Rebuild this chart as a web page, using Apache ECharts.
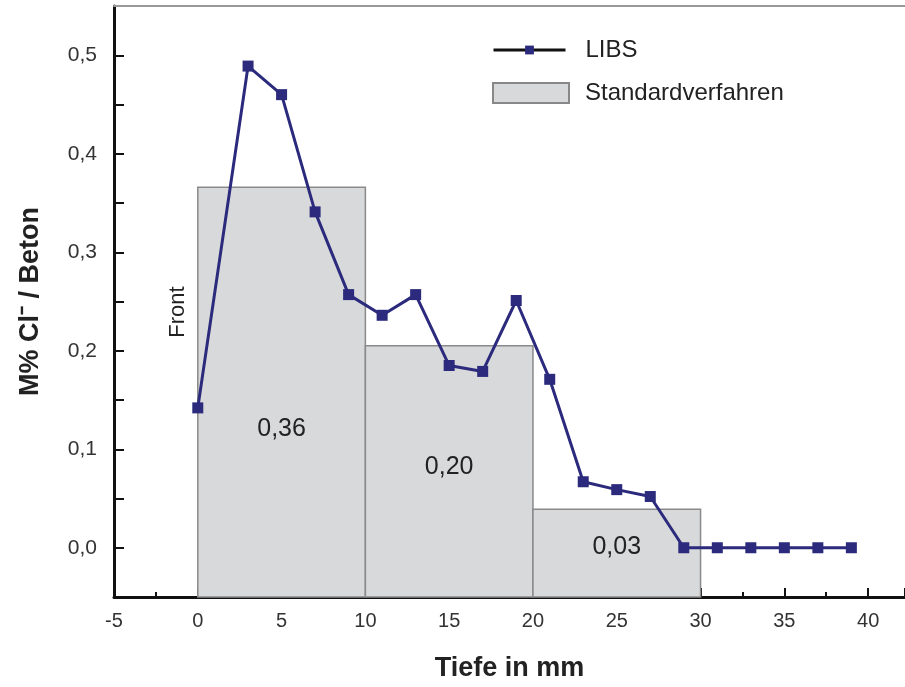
<!DOCTYPE html>
<html><head><meta charset="utf-8">
<script src="https://cdn.jsdelivr.net/npm/echarts@6/dist/echarts.min.js"></script>
<style>html,body{margin:0;padding:0;background:#fff}#c{width:905px;height:687px}</style>
</head><body><div id="c"></div>
<script>
// LIBS measurements
const libsDepth = [0,3,5,7,9,11,13,15,17,19,21,23,25,27,29,31,33,35,37,39];
const libsValue = [0.142,0.489,0.460,0.341,0.257,0.236,0.257,0.185,0.179,0.251,0.171,0.067,0.059,0.052,0.0,0.0,0.0,0.0,0.0,0.0];
// Standard method (layer intervals)
const stdFrom = [0,10,20];
const stdTo = [10,20,30];
const stdValue = [0.366,0.205,0.039];
const stdLabel = ['0,36','0,20','0,03'];
const stdLabelAt = [0.12,0.082,0.001];
const yTicks = [0,0.1,0.2,0.3,0.4,0.5];

const chart = echarts.init(document.getElementById('c'));
const fmt = v => v.toFixed(1).replace('.', ',');
const F = 'Liberation Sans, Arial, sans-serif';
const legText = {fontSize:24,fontFamily:F,color:'#222',padding:[0,0,0,15]};
chart.setOption({
  animation:false,
  backgroundColor:'#fff',
  grid:{left:114,top:6,right:0,bottom:87},
  legend:[{
    left:487, top:33, itemWidth:72, itemHeight:11,
    textStyle:legText,
    data:[{name:'LIBS',lineStyle:{color:'#111',width:3}}]
  },{
    left:487, top:76, itemWidth:76, itemHeight:20,
    textStyle:Object.assign({},legText,{padding:[0,0,0,11]}),
    data:[{name:'Standardverfahren',icon:'rect',itemStyle:{color:'#d7d9db',borderColor:'#888',borderWidth:2}}]
  }],
  xAxis:[{
    type:'value',min:-5,max:42.2,interval:5,
    axisLine:{onZero:false,lineStyle:{color:'#111',width:3}},
    axisTick:{inside:true,length:9,lineStyle:{color:'#111',width:2}},
    minorTick:{show:true,splitNumber:2,length:5,lineStyle:{color:'#111',width:2}},
    splitLine:{show:false},
    axisLabel:{fontSize:20,fontFamily:F,color:'#333',margin:14,showMaxLabel:false},
    name:'Tiefe in mm',nameLocation:'middle',nameGap:58,
    nameTextStyle:{fontSize:27,fontWeight:'bold',fontFamily:F,color:'#222'}
  },{
    type:'value',position:'top',min:-5,max:42.2,
    axisLine:{show:true,onZero:false,lineStyle:{color:'#999',width:2}},
    axisTick:{show:false},axisLabel:{show:false},splitLine:{show:false}
  }],
  yAxis:{
    type:'value',min:-0.05,max:0.55,interval:0.05,
    axisLine:{onZero:false,lineStyle:{color:'#111',width:3}},
    axisTick:{inside:true,length:10,lineStyle:{color:'#111',width:2}},
    splitLine:{show:false},
    axisLabel:{fontSize:21,fontFamily:F,color:'#333',margin:17,
      formatter:v=>{const r=Math.round(v*100)/100; return yTicks.some(t=>Math.abs(t-r)<1e-6)?fmt(r):'';},
      showMaxLabel:false},
    name:'M% Cl⁻ / Beton',nameLocation:'middle',nameGap:70,
    nameTextStyle:{fontSize:27,fontWeight:'bold',fontFamily:F,color:'#222'}
  },
  series:[{
    name:'Standardverfahren',type:'custom',
    itemStyle:{color:'#d7d9db'},
    data:stdValue.map((v,i)=>[stdFrom[i],stdTo[i],v,stdLabelAt[i],stdLabel[i]]),
    encode:{x:[0,1],y:2},
    renderItem:(params,api)=>{
      const cs=params.coordSys;
      const a=api.coord([api.value(0),api.value(2)]);
      const b=api.coord([api.value(1),api.value(2)]);
      const bottom=cs.y+cs.height;
      const i=params.dataIndex;
      const lp=api.coord([(api.value(0)+api.value(1))/2,api.value(3)]);
      return {type:'group',children:[
        {type:'rect',shape:{x:a[0],y:a[1],width:b[0]-a[0],height:bottom-a[1]},
          style:{fill:'#d7d9db',stroke:'#8a8a8a',lineWidth:1.5}},
        {type:'text',x:lp[0],y:lp[1],style:{text:stdLabel[i],fontSize:25,fontFamily:F,fill:'#222',align:'center',verticalAlign:'middle'}}
      ]};
    },
    z:1
  },{
    name:'LIBS',type:'line',
    data:libsDepth.map((d,i)=>[d,libsValue[i]]),
    symbol:'rect',symbolSize:11,
    lineStyle:{color:'#2b2a7c',width:3},
    itemStyle:{color:'#2b2a7c'},
    z:3
  }],
  graphic:[{
    type:'text',x:178,y:312,rotation:Math.PI/2,
    style:{text:'Front',fontSize:22,fontFamily:F,fill:'#222',align:'center',verticalAlign:'middle'}
  }]
});
</script></body></html>
